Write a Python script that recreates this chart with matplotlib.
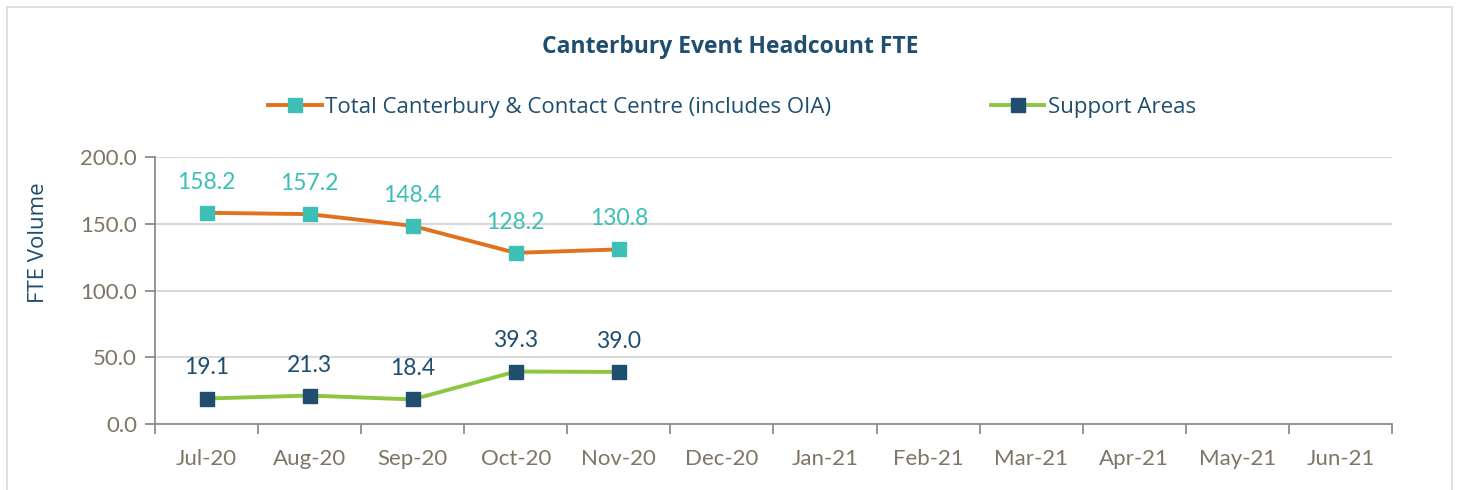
import matplotlib
matplotlib.use("Agg")
import matplotlib.pyplot as plt
from matplotlib.patches import Rectangle
from matplotlib.lines import Line2D

months = ["Jul-20", "Aug-20", "Sep-20", "Oct-20", "Nov-20", "Dec-20",
          "Jan-21", "Feb-21", "Mar-21", "Apr-21", "May-21", "Jun-21"]
total_cc = [158.2, 157.2, 148.4, 128.2, 130.8]
support = [19.1, 21.3, 18.4, 39.3, 39.0]

ORANGE = "#e2711d"
TEAL = "#3dbfb5"
GREEN = "#8dc63f"
NAVY = "#1f4e6e"
TICK = "#7f7566"
GRID = "#d9d9d9"

fig = plt.figure(figsize=(14.61, 4.9), dpi=100)
ax = fig.add_axes([155 / 1461, 1 - 424 / 490, (1392 - 155) / 1461, (424 - 157) / 490])

# outer border
fig.patches.append(Rectangle((7 / 1461, -0.05), 1445 / 1461, 1 - 7 / 490 + 0.05,
                             transform=fig.transFigure, fill=False,
                             edgecolor="#d9d9d9", linewidth=1.2))

x1 = list(range(len(total_cc)))
x2 = list(range(len(support)))
ax.plot(x1, total_cc, color=ORANGE, lw=2.8, marker="s", ms=10,
        mfc=TEAL, mec=TEAL, zorder=3)
ax.plot(x2, support, color=GREEN, lw=2.8, marker="s", ms=10,
        mfc=NAVY, mec=NAVY, zorder=3)

for x, v in zip(x1, total_cc):
    ax.annotate(f"{v:.1f}", (x, v), xytext=(0, 22), textcoords="offset points",
                ha="center", va="center", color=TEAL, fontsize=16.5, family="Lato")
for x, v in zip(x2, support):
    ax.annotate(f"{v:.1f}", (x, v), xytext=(0, 22), textcoords="offset points",
                ha="center", va="center", color=NAVY, fontsize=16.5, family="Lato")

ax.set_xlim(-0.5, len(months) - 0.5)
ax.set_ylim(0, 200)
ax.set_yticks([0, 50, 100, 150, 200])
ax.set_yticklabels([f"{v:.1f}" for v in [0, 50, 100, 150, 200]])
ax.set_xticks(range(len(months)))
ax.set_xticklabels(months)
ax.set_xticks([i - 0.5 for i in range(len(months) + 1)], minor=True)
ax.tick_params(axis="x", which="major", length=0, pad=18, labelsize=16, labelcolor=TICK)
ax.tick_params(axis="x", which="minor", length=7, width=1.3, color="#8c8c8c", direction="out")
ax.tick_params(axis="y", length=7, width=1.3, color="#8c8c8c", pad=6, labelsize=16, labelcolor=TICK)
for lbl in ax.get_xticklabels() + ax.get_yticklabels():
    lbl.set_family("Lato")

ax.grid(axis="y", color=GRID, lw=1.5)
ax.set_axisbelow(True)
for s in ["top", "right"]:
    ax.spines[s].set_visible(False)
for s in ["left", "bottom"]:
    ax.spines[s].set_color("#8c8c8c")
    ax.spines[s].set_linewidth(1.3)

fig.text(39 / 1461, 1 - 243 / 490, "FTE Volume", rotation=90, ha="center", va="center",
         color=NAVY, fontsize=16, family="Open Sans")

fig.text(730 / 1461, 1 - 47 / 490, "Canterbury Event Headcount FTE", ha="center", va="center",
         color=NAVY, fontsize=16.5, fontweight="bold", family="Open Sans")

handles = [Line2D([], [], color=ORANGE, lw=2.8, marker="s", ms=10, mfc=TEAL, mec=TEAL),
           Line2D([], [], color=GREEN, lw=2.8, marker="s", ms=10, mfc=NAVY, mec=NAVY)]
fig.legend(handles, ["Total Canterbury & Contact Centre (includes OIA)", "Support Areas"],
           loc="center", bbox_to_anchor=(732 / 1461, 1 - 107 / 490), ncol=2, frameon=False,
           handlelength=2.4, handletextpad=0.15, columnspacing=7.2,
           prop={"family": "Open Sans", "size": 16}, labelcolor=NAVY)

fig.savefig("out.png", dpi=100, facecolor="white")
